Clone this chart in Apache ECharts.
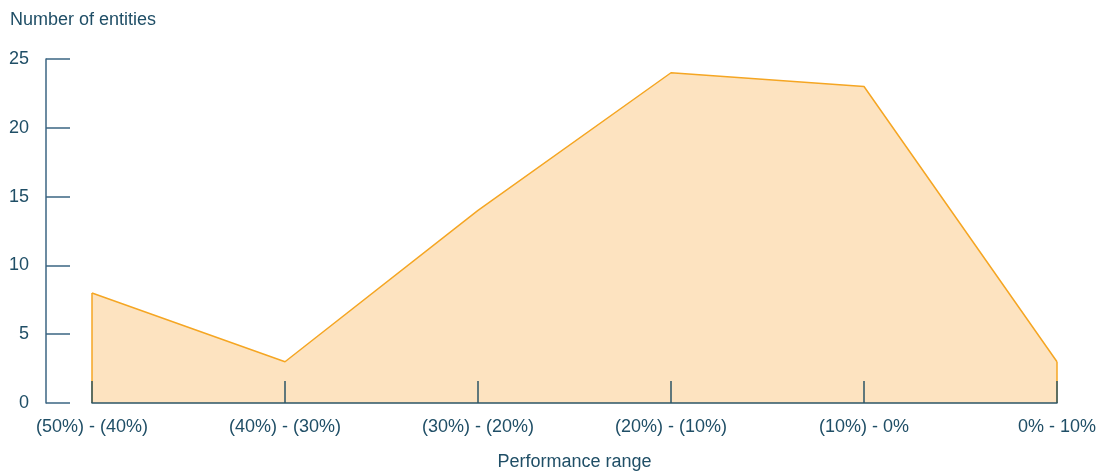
<!DOCTYPE html>
<html>
<head>
<meta charset="utf-8">
<style>html,body{margin:0;padding:0;background:#fff}#c{width:1102px;height:471px}</style>
<script src="https://cdn.jsdelivr.net/npm/echarts@6/dist/echarts.min.js"></script>
</head>
<body>
<div id="c"></div>
<script>
const categories = ['(50%) - (40%)', '(40%) - (30%)', '(30%) - (20%)', '(20%) - (10%)', '(10%) - 0%', '0% - 10%'];
const entities = [8, 3, 14, 24, 23, 3];
const yTicks = [0, 5, 10, 15, 20, 25];

const textColor = '#1f4e66';
const axisColor = '#3b6582';
const lineColor = '#f5a623';
const fillColor = '#fde3c0';
const last = entities.length - 1;
const font = 'Liberation Sans, Arial, sans-serif';

const chart = echarts.init(document.getElementById('c'), null, {renderer: 'canvas'});
chart.setOption({
  animation: false,
  title: {
    text: 'Number of entities', left: 5, top: 6,
    textStyle: {fontFamily: font, fontSize: 18, fontWeight: 'normal', color: textColor}
  },
  grid: {left: 92, right: 45, top: 59, bottom: 68, outerBoundsMode: 'none', containLabel: false},
  xAxis: {
    type: 'category', data: categories, boundaryGap: false, z: 5,
    name: 'Performance range', nameLocation: 'middle', nameGap: 50,
    nameTextStyle: {fontFamily: font, fontSize: 18, color: textColor},
    axisLine: {lineStyle: {color: '#2d5566', width: 1.5}},
    axisTick: {inside: true, length: 22, alignWithLabel: true, lineStyle: {color: '#2d5566', width: 1.5}},
    axisLabel: {margin: 15, fontFamily: font, fontSize: 18, color: textColor, interval: 0},
    splitLine: {show: false}
  },
  yAxis: {
    type: 'value', min: yTicks[0], max: yTicks[yTicks.length - 1], interval: 5, offset: 46,
    axisLine: {show: true, lineStyle: {color: axisColor, width: 1.5}},
    axisTick: {show: true, inside: true, length: 24, lineStyle: {color: axisColor, width: 1.5}},
    axisLabel: {margin: 17, fontFamily: font, fontSize: 18, color: textColor},
    splitLine: {show: false}
  },
  series: [{
    type: 'line', data: entities, symbol: 'none', z: 1,
    lineStyle: {color: lineColor, width: 1.5},
    areaStyle: {color: fillColor, opacity: 1},
    markLine: {
      silent: true, symbol: 'none', label: {show: false},
      lineStyle: {color: lineColor, width: 1.5, type: 'solid'},
      data: [
        [{coord: [0, 0]}, {coord: [0, entities[0]]}],
        [{coord: [last, 0]}, {coord: [last, entities[last]]}]
      ]
    }
  }]
});
</script>
</body>
</html>
